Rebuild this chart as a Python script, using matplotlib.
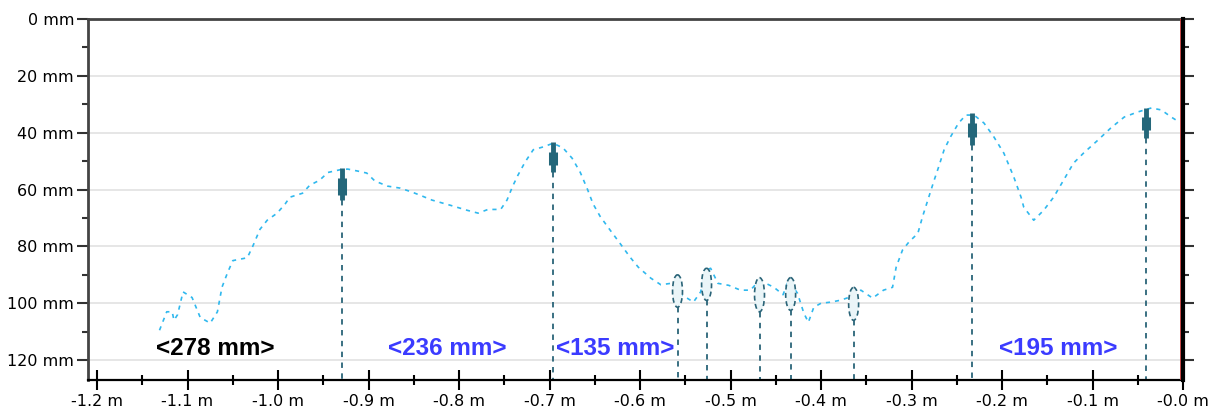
import numpy as np
import matplotlib.pyplot as plt
from matplotlib.patches import Ellipse

# profile trace (position in m, depth in mm)
prof_x = [-1.131, -1.123, -1.117, -1.115, -1.111, -1.105, -1.095, -1.086, -1.075, -1.067,
          -1.062, -1.056, -1.050, -1.034, -1.028, -1.020, -1.012, -1.001, -0.992, -0.987,
          -0.973, -0.965, -0.954, -0.945, -0.931, -0.923, -0.912, -0.902, -0.893, -0.879,
          -0.865, -0.852, -0.843, -0.830, -0.810, -0.791, -0.779, -0.768, -0.754, -0.747,
          -0.741, -0.735, -0.727, -0.718, -0.707, -0.696, -0.685, -0.675, -0.666, -0.658,
          -0.652, -0.644, -0.633, -0.622, -0.611, -0.602, -0.588, -0.577, -0.566, -0.558,
          -0.548, -0.541, -0.533, -0.528, -0.522, -0.514, -0.502, -0.489, -0.478, -0.470,
          -0.461, -0.452, -0.442, -0.436, -0.426, -0.419, -0.414, -0.408, -0.400, -0.389,
          -0.378, -0.369, -0.356, -0.343, -0.331, -0.321, -0.317, -0.310, -0.303, -0.293,
          -0.288, -0.282, -0.275, -0.270, -0.264, -0.257, -0.248, -0.240, -0.231, -0.220,
          -0.209, -0.198, -0.187, -0.179, -0.176, -0.165, -0.154, -0.143, -0.132, -0.121,
          -0.110, -0.094, -0.080, -0.065, -0.050, -0.035, -0.024, -0.013, -0.004]
prof_y = [109.5, 103, 103, 106, 104, 96, 98, 105, 107, 103,
          94.4, 89.4, 85, 84, 80, 74, 70.8, 68.3, 65, 62.7,
          61.3, 58.5, 56.7, 54, 53, 52.8, 53.5, 54.2, 57, 58.8,
          59.5, 60.9, 62, 63.7, 65.5, 67.3, 68.3, 67, 67, 63.7,
          59, 55, 50.3, 46, 45, 43.7, 45.4, 49, 54, 60,
          65, 69.5, 74.3, 79, 83.8, 87.3, 91.2, 93.5, 93, 96.5,
          98.2, 99.6, 96, 88.4, 87.7, 93, 93.7, 95.4, 95.4, 92.6,
          93, 94.4, 97, 92, 96.5, 103.5, 106.7, 101.4, 100, 99.6,
          98.9, 97.9, 95.4, 98.2, 95.4, 94.4, 87.3, 81.3, 78.5, 75.4,
          69.7, 63.7, 56.7, 52, 46, 41.5, 36.6, 33.8, 33.8, 36.6,
          41.5, 47.2, 55.6, 62.7, 66.2, 70.8, 67.3, 62.7, 56.7, 50.7,
          47.2, 42.6, 38.4, 34.5, 32.7, 31.3, 32, 34.5, 36.3]

# bar markers: position, top, thick top, thick bottom, bottom (mm)
bar_x = [-0.929, -0.696, -0.2334, -0.0409]
bar_top = [52.5, 43.3, 33.1, 31.3]
bar_mid_top = [56.0, 46.8, 36.6, 34.5]
bar_mid_bot = [62.0, 51.4, 41.5, 39.0]
bar_bot = [63.7, 54.0, 44.4, 42.0]

# small ellipse markers: position, top, bottom (mm)
ell_x = [-0.5586, -0.5265, -0.468, -0.4336, -0.364]
ell_top = [90.0, 87.7, 91.0, 91.0, 94.4]
ell_bot = [101.4, 99.0, 103.0, 102.5, 106.0]

# spacing labels
lab_x = [-1.069, -0.813, -0.627, -0.138]
lab_y = [115.8, 115.8, 115.8, 115.8]
lab_txt = ['<278 mm>', '<236 mm>', '<135 mm>', '<195 mm>']
lab_col = ['black', '#3b3bff', '#3b3bff', '#3b3bff']

xticks = [-1.2, -1.1, -1.0, -0.9, -0.8, -0.7, -0.6, -0.5, -0.4, -0.3, -0.2, -0.1, 0.0]
xlabels = ['-1.2 m', '-1.1 m', '-1.0 m', '-0.9 m', '-0.8 m', '-0.7 m', '-0.6 m',
           '-0.5 m', '-0.4 m', '-0.3 m', '-0.2 m', '-0.1 m', '-0.0 m']
yticks = [0, 20, 40, 60, 80, 100, 120]
ylabels = ['0 mm', '20 mm', '40 mm', '60 mm', '80 mm', '100 mm', '120 mm']

plt.rcParams['font.family'] = ['DejaVu Sans']

fig = plt.figure(figsize=(12.19, 4.12), dpi=100)
ax = fig.add_axes([0.0722, 0.0777, 0.8983, 0.8762])

teal = '#2a6478'

ax.plot(prof_x, prof_y, color='#2fb8ee', lw=1.2, ls=(0, (2.5, 3)), zorder=3)

# vertical guides and thick bar markers
for x, t, mt, mb, b in zip(bar_x, bar_top, bar_mid_top, bar_mid_bot, bar_bot):
    ax.vlines(x, b, 127, color=teal, lw=1.3, ls=(0, (3, 3)), zorder=2)
    ax.vlines(x, t, b, color='#24677a', lw=3.5, zorder=4)
    ax.vlines(x, mt, mb, color='#24677a', lw=6.5, zorder=4)

for x, t, b in zip(ell_x, ell_top, ell_bot):
    ax.vlines(x, b, 127, color=teal, lw=1.3, ls=(0, (3, 3)), zorder=2)
    e = Ellipse((x, (t + b) / 2), 0.011, b - t, facecolor='#eaf5f8',
                edgecolor=teal, lw=1.2, ls=(0, (3, 2)), zorder=4)
    ax.add_patch(e)

for x, y, s, c in zip(lab_x, lab_y, lab_txt, lab_col):
    ax.text(x, y, s, color=c, fontsize=17.5, fontweight='bold',
            family='Liberation Sans', ha='center', va='center', zorder=5)

# current position line
ax.axvline(-0.0022, color='#d03a3a', lw=2, zorder=5)

ax.set_xlim(-1.21, 0)
ax.set_ylim(127, 0)
ax.set_xticks(xticks)
ax.set_xticklabels(xlabels, fontsize=11.5)
ax.set_xticks(np.arange(-1.15, 0, 0.1), minor=True)
ax.set_yticks(yticks)
ax.set_yticklabels(ylabels, fontsize=11.5)
ax.set_yticks(np.arange(10, 127, 20), minor=True)
ax.yaxis.grid(True, which='major', color='#e2e2e2', lw=1.2)
ax.set_axisbelow(True)

ax.tick_params(axis='y', which='major', direction='out', length=8, width=1.5,
               color='#333333', left=True, right=True, pad=2)
ax.tick_params(axis='y', which='minor', direction='out', length=4, width=1.5,
               color='#333333', left=True, right=True)
ax.tick_params(axis='x', which='major', direction='inout', length=14, width=1.5,
               color='black', pad=3)
ax.tick_params(axis='x', which='minor', direction='inout', length=7, width=1.5,
               color='black')

for side in ['left', 'top']:
    ax.spines[side].set_color('#444444')
    ax.spines[side].set_linewidth(2)
ax.spines['bottom'].set_color('black')
ax.spines['bottom'].set_linewidth(1.6)
ax.spines['right'].set_color('black')
ax.spines['right'].set_linewidth(3)
ax.spines['right'].set_zorder(6)

fig.savefig('out.png', dpi=100)
